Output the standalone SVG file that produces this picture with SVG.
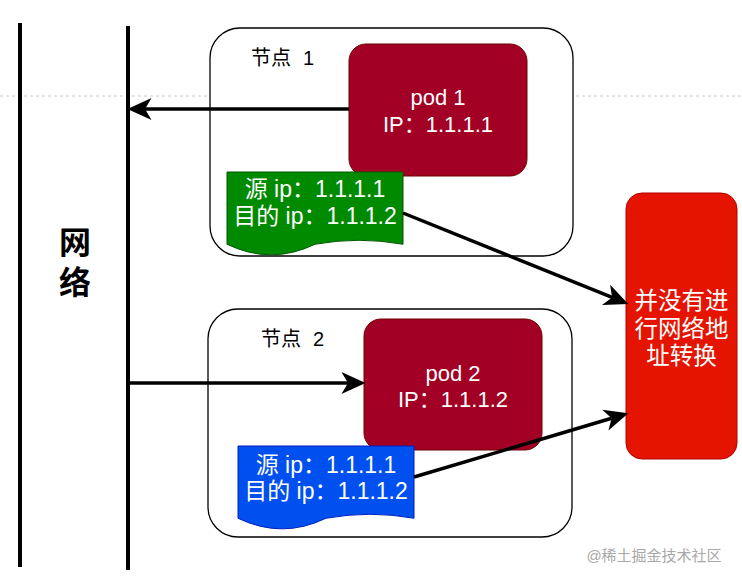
<svg xmlns="http://www.w3.org/2000/svg" width="742" height="582" viewBox="0 0 742 582">
<defs>
<style>
text{font-family:"Liberation Sans","Noto Sans CJK SC",sans-serif;}
.node{fill:#ffffff;stroke:#000000;stroke-width:1.3;}
.pod{fill:#a20025;stroke:#6f0000;stroke-width:1;}
.wt{fill:#ffffff;font-size:22px;text-anchor:middle;}
.doc{fill:#ffffff;font-size:23px;text-anchor:middle;}
.lbl{fill:#000000;font-size:20px;}
.conn{stroke:#000000;stroke-width:3.5;fill:none;}
.bar{stroke:#000000;stroke-width:4;}
</style>
<marker id="ah" markerUnits="userSpaceOnUse" markerWidth="24" markerHeight="24" viewBox="0 0 22 22" refX="6" refY="11" orient="auto">
<path d="M0,1 L22,11 L0,21 L6,11 Z" fill="#000000"/>
</marker>
</defs>
<rect width="742" height="582" fill="#ffffff"/>
<line x1="0" y1="96" x2="742" y2="96" stroke="#c8c8c8" stroke-width="1" stroke-dasharray="3,3"/>
<g id="network">
<line class="bar" x1="20" y1="23" x2="20" y2="567"/>
<line class="bar" x1="128" y1="26" x2="128" y2="570"/>
<text x="75" y="254" font-size="32" font-weight="bold" text-anchor="middle" fill="#000">网</text>
<text x="75" y="294" font-size="32" font-weight="bold" text-anchor="middle" fill="#000">络</text>
</g>
<g id="node1">
<rect class="node" x="210" y="28" width="363" height="228" rx="30"/>
<text class="lbl" x="251" y="65">节点<tspan dx="12">1</tspan></text>
</g>
<g id="pod1">
<rect class="pod" x="349" y="44" width="178" height="132" rx="17"/>
<text class="wt" x="438" y="105">pod 1</text>
<text class="wt" x="438" y="132">IP：1.1.1.1</text>
</g>
<g id="packet1">
<path d="M227,172 H403 V244.25 Q359,236.3 315,244.25 Q271,265.45 227,244.25 Z" fill="#008a00" stroke="#005700" stroke-width="1"/>
<text class="doc" x="315" y="197">源 ip：1.1.1.1</text>
<text class="doc" x="315" y="224">目的 ip：1.1.1.2</text>
</g>
<g id="node2">
<rect class="node" x="208" y="309" width="364" height="228" rx="30"/>
<text class="lbl" x="261" y="346">节点<tspan dx="12">2</tspan></text>
</g>
<g id="pod2">
<rect class="pod" x="364" y="319" width="178" height="131" rx="17"/>
<text class="wt" x="453" y="381">pod 2</text>
<text class="wt" x="453" y="407">IP：1.1.1.2</text>
</g>
<g id="packet2">
<path d="M238,446 H414 V518.25 Q370,510.3 326,518.25 Q282,539.45 238,518.25 Z" fill="#0050ef" stroke="#001dbc" stroke-width="1"/>
<text class="doc" x="326" y="473">源 ip：1.1.1.1</text>
<text class="doc" x="326" y="499">目的 ip：1.1.1.2</text>
</g>
<g id="nat">
<rect x="626" y="193" width="111" height="266" rx="16" fill="#e51400" stroke="#b20000" stroke-width="1"/>
<text x="681.5" y="309" font-size="23.5" fill="#ffffff" text-anchor="middle">并没有进</text>
<text x="681.5" y="337" font-size="23.5" fill="#ffffff" text-anchor="middle">行网络地</text>
<text x="681.5" y="364" font-size="23.5" fill="#ffffff" text-anchor="middle">址转换</text>
</g>
<g id="connectors">
<line class="conn" x1="349" y1="109" x2="145" y2="109" marker-end="url(#ah)"/>
<line class="conn" x1="128" y1="383" x2="348" y2="383" marker-end="url(#ah)"/>
<line class="conn" x1="403" y1="213" x2="612.1" y2="297.4" marker-end="url(#ah)"/>
<line class="conn" x1="414" y1="477" x2="611.6" y2="418.3" marker-end="url(#ah)"/>
</g>
<text x="654" y="561" font-size="15" fill="#a8a8a8" text-anchor="middle">@稀土掘金技术社区</text>
</svg>
